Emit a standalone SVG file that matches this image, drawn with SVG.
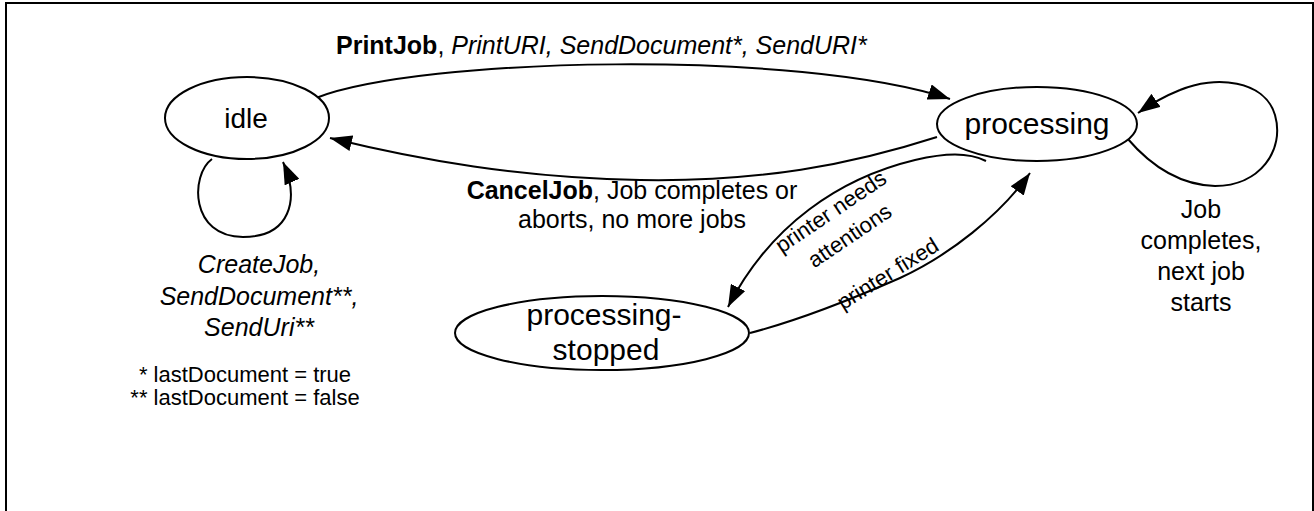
<svg xmlns="http://www.w3.org/2000/svg" width="1314" height="511" viewBox="0 0 1314 511">
<style>
text{font-family:"Liberation Sans",Arial,sans-serif;fill:#000}
.node{fill:#fff;stroke:#000;stroke-width:2}
.edge{fill:none;stroke:#000;stroke-width:2;marker-end:url(#ah)}
.lbl{font-size:25px}
.it{font-style:italic}
.b{font-weight:bold}
</style>
<defs>
<marker id="ah" markerUnits="userSpaceOnUse" viewBox="0 0 22 16" refX="22" refY="8" markerWidth="22" markerHeight="16" orient="auto">
<path d="M0,0 L22,8 L0,16 z" fill="#000"/>
</marker>
</defs>
<rect width="1314" height="511" fill="#fff"/>
<path d="M6,511 V3 H1313 V511" fill="none" stroke="#000" stroke-width="2"/>
<g id="connectors">
<path class="edge" d="M316,98 C420,57 800,49 950,99"/>
<path class="edge" d="M937,137 C850,165 760,182 640,180 C520,178 420,160 330,138"/>
<path class="edge" d="M212,159 C190,175 190,237 243,237 C290,237 300,200 283,162"/>
<path class="edge" d="M1127,138 C1150,165 1180,185 1215,186 C1260,186 1285,150 1275,115 C1265,80 1215,75 1180,90 C1160,98 1148,106 1138,113"/>
<path class="edge" d="M986,161 C968,152 945,153 915,160 C840,178 770,225 728,307"/>
<path class="edge" d="M750,333 C800,320 850,300 900,278 C950,255 1000,215 1030,173"/>
</g>
<g id="idle">
<ellipse class="node" cx="247" cy="118" rx="82" ry="41"/>
<text x="246" y="128" font-size="28" text-anchor="middle">idle</text>
</g>
<g id="processing">
<ellipse class="node" cx="1037" cy="124" rx="100" ry="37"/>
<text x="1037" y="134" font-size="30" text-anchor="middle">processing</text>
</g>
<g id="processing-stopped">
<ellipse class="node" cx="602" cy="333" rx="147" ry="37"/>
<text x="604" y="325" font-size="30" text-anchor="middle">processing-</text>
<text x="606" y="360" font-size="30" text-anchor="middle">stopped</text>
</g>
<g id="labels" class="lbl">
<text x="336" y="54"><tspan class="b">PrintJob</tspan>, <tspan class="it">PrintURI, SendDocument*, SendURI*</tspan></text>
<text x="632" y="199" text-anchor="middle"><tspan class="b">CancelJob</tspan>, Job completes or</text>
<text x="632" y="228" text-anchor="middle">aborts, no more jobs</text>
<text class="it" x="259" y="273" text-anchor="middle">CreateJob,</text>
<text class="it" x="259" y="305" text-anchor="middle">SendDocument**,</text>
<text class="it" x="259" y="336" text-anchor="middle">SendUri**</text>
<text x="245" y="382" font-size="22" text-anchor="middle">* lastDocument = true</text>
<text x="245" y="405" font-size="22" text-anchor="middle">** lastDocument = false</text>
<text x="1201" y="218" text-anchor="middle">Job</text>
<text x="1201" y="249" text-anchor="middle">completes,</text>
<text x="1201" y="280" text-anchor="middle">next job</text>
<text x="1201" y="311" text-anchor="middle">starts</text>
<text font-size="22" text-anchor="middle" transform="translate(831,212) rotate(-34)" y="7">printer needs</text>
<text font-size="22" text-anchor="middle" transform="translate(850,236) rotate(-34)" y="7">attentions</text>
<text font-size="22" text-anchor="middle" transform="translate(888,274) rotate(-32)" y="7">printer fixed</text>
</g>
</svg>
